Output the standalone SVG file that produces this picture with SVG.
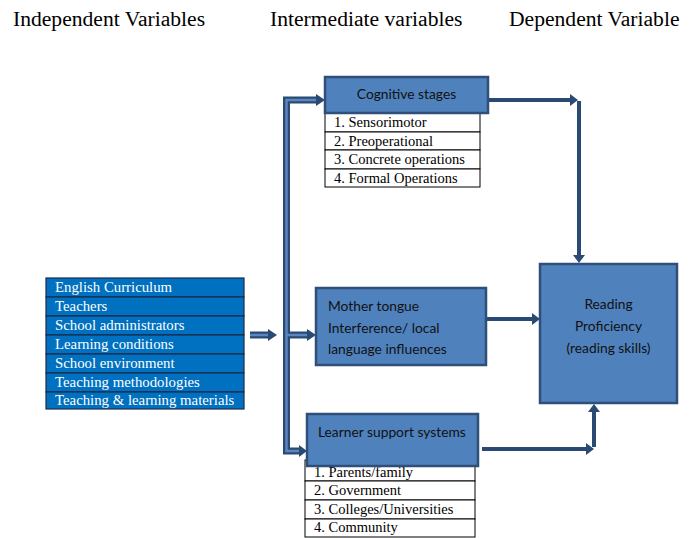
<svg xmlns="http://www.w3.org/2000/svg" width="693" height="538" viewBox="0 0 693 538">
<defs>
<style>
.title{font-family:"Liberation Serif",serif;font-size:21.6px;fill:#000}
.box{fill:#4f81bd;stroke:#2f4f7a;stroke-width:2.5}
.cal{font-family:Lato,"Liberation Sans",sans-serif;font-size:13.8px;fill:#111}
.lst{fill:#fff;stroke:#000;stroke-width:1}
.lt{font-family:"Liberation Serif",serif;font-size:14.5px;fill:#000}
.ind{fill:#0070c0;stroke:#1c2b4a;stroke-width:1.2}
.it{font-family:"Liberation Serif",serif;font-size:14.8px;fill:#fff}
.arr{fill:none;stroke:#2a4a73;stroke-width:4}
.busO{fill:none;stroke:#2a4a73;stroke-width:7}
.busI{fill:none;stroke:#5b86bf;stroke-width:2.5}
.head{fill:#2a4a73}
</style>
</defs>
<rect width="693" height="538" fill="#fff"/>
<text class="title" x="13" y="26">Independent Variables</text>
<text class="title" x="270" y="26">Intermediate variables</text>
<text class="title" x="509" y="26">Dependent Variable</text>

<g id="connectors">
<path class="busO" d="M318 100 H286.5 V451 H301"/>
<path class="busO" d="M286.5 335 H309"/>
<path class="busI" d="M318 100 H286.5 V451 H301"/>
<path class="busI" d="M286.5 335 H309"/>
<polygon class="head" points="316,94 325,100 316,106"/>
<polygon class="head" points="307,329 316,335 307,341"/>
<polygon class="head" points="299,445 307,451 299,457"/>
<path class="busO" d="M250 335 H270"/>
<path class="busI" d="M250 335 H270"/>
<polygon class="head" points="268,329 277,335 268,341"/>
<path class="arr" d="M488 100 H572"/>
<polygon class="head" points="570,94 578,100 570,106"/>
<path class="arr" d="M579 101 V256"/>
<polygon class="head" points="573,255 579,263 585,255"/>
<path class="arr" d="M487 319 H534"/>
<polygon class="head" points="532,313 540,319 532,325"/>
<path class="arr" d="M482 449 H588"/>
<polygon class="head" points="586,443 594,449 586,455"/>
<path class="arr" d="M594 447 V411"/>
<polygon class="head" points="588,412 594,404 600,412"/>
</g>

<g id="independent">
<rect class="ind" x="46" y="278" width="198" height="19"/>
<rect class="ind" x="46" y="297" width="198" height="19"/>
<rect class="ind" x="46" y="316" width="198" height="19"/>
<rect class="ind" x="46" y="335" width="198" height="19"/>
<rect class="ind" x="46" y="354" width="198" height="19"/>
<rect class="ind" x="46" y="373" width="198" height="19"/>
<rect class="ind" x="46" y="392" width="198" height="17"/>
<text class="it" x="55" y="292">English Curriculum</text>
<text class="it" x="55" y="311">Teachers</text>
<text class="it" x="55" y="330">School administrators</text>
<text class="it" x="55" y="349">Learning conditions</text>
<text class="it" x="55" y="368">School environment</text>
<text class="it" x="55" y="387">Teaching methodologies</text>
<text class="it" x="55" y="405">Teaching &amp; learning materials</text>
</g>

<g id="cognitive">
<rect class="lst" x="325" y="113" width="155" height="19"/>
<rect class="lst" x="325" y="132" width="155" height="18"/>
<rect class="lst" x="325" y="150" width="155" height="19"/>
<rect class="lst" x="325" y="169" width="155" height="18"/>
<text class="lt" x="334" y="127">1. Sensorimotor</text>
<text class="lt" x="334" y="146">2. Preoperational</text>
<text class="lt" x="334" y="164">3. Concrete operations</text>
<text class="lt" x="334" y="183">4. Formal Operations</text>
<rect class="box" x="325" y="77" width="163" height="36"/>
<text class="cal" x="406.5" y="99" text-anchor="middle">Cognitive stages</text>
</g>

<g id="mother">
<rect class="box" x="316" y="288" width="170" height="77"/>
<text class="cal" x="328" y="311">Mother tongue</text>
<text class="cal" x="328" y="333">Interference/ local</text>
<text class="cal" x="328" y="354">language influences</text>
</g>

<g id="learner">
<rect class="lst" x="305" y="460" width="170" height="21"/>
<rect class="lst" x="305" y="481" width="170" height="19"/>
<rect class="lst" x="305" y="500" width="170" height="19"/>
<rect class="lst" x="305" y="519" width="170" height="18"/>
<text class="lt" x="314" y="477">1. Parents/family</text>
<text class="lt" x="314" y="495">2. Government</text>
<text class="lt" x="314" y="514">3. Colleges/Universities</text>
<text class="lt" x="314" y="532">4. Community</text>
<rect class="box" x="307" y="414" width="171" height="52"/>
<text class="cal" x="318" y="437">Learner support systems</text>
</g>

<g id="reading">
<rect class="box" x="540" y="264" width="137" height="139"/>
<text class="cal" x="608.5" y="309" text-anchor="middle">Reading</text>
<text class="cal" x="608.5" y="331" text-anchor="middle">Proficiency</text>
<text class="cal" x="608.5" y="353" text-anchor="middle">(reading skills)</text>
</g>
</svg>
